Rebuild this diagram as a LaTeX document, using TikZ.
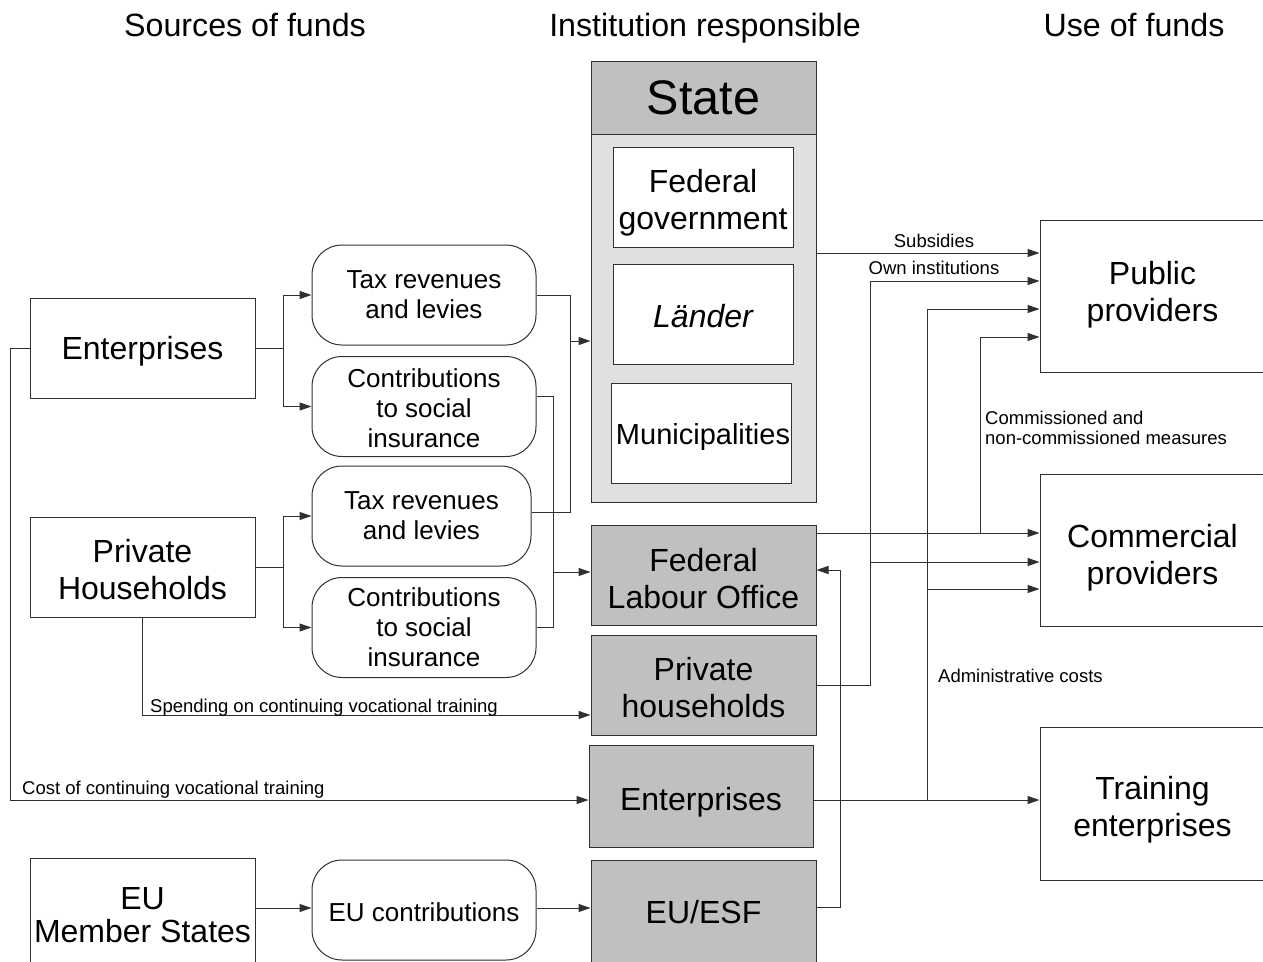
\documentclass[tikz,border=0pt]{standalone}
\usepackage{fontspec}
\setmainfont{Liberation Sans}
\usetikzlibrary{arrows.meta}
\definecolor{lc}{HTML}{303030}
\definecolor{gA}{HTML}{C0C0C0}
\definecolor{gB}{HTML}{E0E0E0}
\newcommand\TS[1]{\rule{0pt}{#1pt}}
\newcommand\BS[1]{\rule[-#1pt]{0pt}{#1pt}}
\begin{document}
\begin{tikzpicture}[x=1pt,y=-1pt,
  box/.style={draw=lc, line width=1pt, fill=white, minimum width=225pt, minimum height=100pt, align=center, inner sep=0pt, font=\fontsize{32}{37}\selectfont},
  rbox/.style={box, minimum width=224pt, rounded corners=30pt, font=\fontsize{26}{30}\selectfont},
  gbox/.style={box, fill=gA},
  inbox/.style={box, minimum width=180pt},
  ln/.style={draw=lc, line width=1pt},
  arr/.style={draw=lc, line width=1pt, -{Triangle[length=12pt,width=8pt]}},
  lbl/.style={font=\fontsize{18.5}{20}\selectfont, inner sep=0pt, align=left, anchor=base},
  ttl/.style={font=\fontsize{32.2}{36}\selectfont, inner sep=0pt, anchor=base}]
\useasboundingbox (0,0) rectangle (1263,961);
% titles
\node[ttl] (t1) at (245,36) {Sources of funds};
\node[ttl] (t2) at (705,36) {Institution responsible};
\node[ttl] (t3) at (1134,36) {Use of funds};
% helper levels
\foreach \v in {253,281,309,337,341,396,512,533,562,570,572,589,627,715,800,907,908}{\coordinate (h\v) at (0,\v);}
\foreach \u in {10,283,553,570,840,870,927,980}{\coordinate (v\u) at (\u,0);}
% sources
\node[box] (ent) at (142.5,348) {\TS{31}Enterprises\BS{8}};
\node[box] (ph) at (142.5,567) {\TS{35}Private\\Households\BS{8}};
\node[box, minimum height=108pt, font=\fontsize{32}{33}\selectfont] (eums) at (142.5,912) {\TS{36}EU\\Member States\BS{8}};
% intermediate
\node[rbox] (tax1) at (424,295) {Tax revenues\\and levies};
\node[rbox] (con1) at (424,406.5) {\TS{27.6}Contributions\\to social\\insurance\BS{6}};
\node[rbox, minimum width=219pt] (tax2) at (421.5,516) {Tax revenues\\and levies};
\node[rbox] (con2) at (424,627.5) {Contributions\\to social\\insurance};
\node[rbox, minimum height=100pt] (euc) at (424,910) {\TS{28.6}EU contributions\BS{6}};
% state
\node[box, fill=gB, minimum height=441pt] (state) at (703.5,281.5) {};
\node[box, fill=gA, anchor=north, minimum height=73pt, font=\fontsize{48.5}{50}\selectfont] (statehd) at (state.north) {State};
\node[inbox] (fed) at (703,197) {\TS{35}Federal\\government\BS{8}};
\node[inbox] (lae) at (703,314) {\TS{35}\itshape Länder\BS{8}};
\node[inbox, font=\fontsize{29}{33}\selectfont] (muni) at (701,433) {\TS{31}\kern4pt Municipalities\BS{8}};
% other institutions
\node[gbox] (flo) at (703.5,575) {\TS{38}Federal\\Labour Office\BS{8}};
\node[gbox] (phh) at (703.5,685) {\TS{36}Private\\households\BS{8}};
\node[gbox, minimum width=224pt, minimum height=102pt] (entg) at (701,796) {\TS{37}Enterprises\BS{8}};
\node[gbox, minimum height=104pt] (euesf) at (703.5,912) {\TS{31}EU/ESF\BS{8}};
% uses
\node[box, minimum height=152pt] (pub) at (1152.5,296) {\TS{24}Public\\providers\BS{10}};
\node[box, minimum height=152pt] (com) at (1152.5,550) {\TS{40}Commercial\\providers\BS{8}};
\node[box, minimum height=153pt] (trn) at (1152.5,803.5) {\TS{37}Training\\enterprises\BS{8}};
% left connectors
\draw[arr] (ent.east) -| (v283 |- tax1.west) -- (tax1.west);
\draw[arr] (ent.east) -| (v283 |- con1.west) -- (con1.west);
\draw[arr] (ph.east) -| (v283 |- tax2.west) -- (tax2.west);
\draw[arr] (ph.east) -| (v283 |- con2.west) -- (con2.west);
\draw[ln] (tax1.east) -| (v570 |- h512) -- (tax2.east |- h512);
\draw[arr] (v570 |- h341) -- (state.west |- h341);
\draw[ln] (con1.east |- h396) -| (v553 |- h627) -- (con2.east |- h627);
\draw[arr] (v553 |- h572) -- (flo.west |- h572);
\draw[arr] (ph.south) |- (phh.west |- h715);
\draw[arr] (ent.west) -| (v10 |- h800) -- (entg.west |- h800);
\draw[arr] (eums.east |- h908) -- (euc.west |- h908);
\draw[arr] (euc.east |- h908) -- (euesf.west |- h908);
% right connectors
\draw[arr] (state.east |- h253) -- (pub.west |- h253);
\draw[arr] (phh.east) -| (v870 |- h281) -- (pub.west |- h281);
\draw[arr] (v870 |- h562) -- (com.west |- h562);
\draw[arr] (entg.east |- h800) -- (trn.west |- h800);
\draw[arr] (v927 |- h800) |- (pub.west |- h309);
\draw[arr] (v927 |- h589) -- (com.west |- h589);
\draw[arr] (flo.east |- h533) -- (com.west |- h533);
\draw[arr] (v980 |- h533) |- (pub.west |- h337);
\draw[arr] (euesf.east |- h907) -| (v840 |- h570) -- (flo.east |- h570);
% labels
\node[lbl] (lsub) at (934,247.5) {Subsidies};
\node[lbl] (lown) at (934,274.5) {Own institutions};
\node[lbl, anchor=base west] (lcom) at (985,424.5) {Commissioned and};
\node[lbl, anchor=base west] (lcom2) at (985,444.5) {non-commissioned measures};
\node[lbl, anchor=base west] (ladm) at (938,682.5) {Administrative costs};
\node[lbl, anchor=base west] (lspe) at (150,712.5) {Spending on continuing vocational training};
\node[lbl, anchor=base west] (lcos) at (22,794) {Cost of continuing vocational training};
\end{tikzpicture}
\end{document}
